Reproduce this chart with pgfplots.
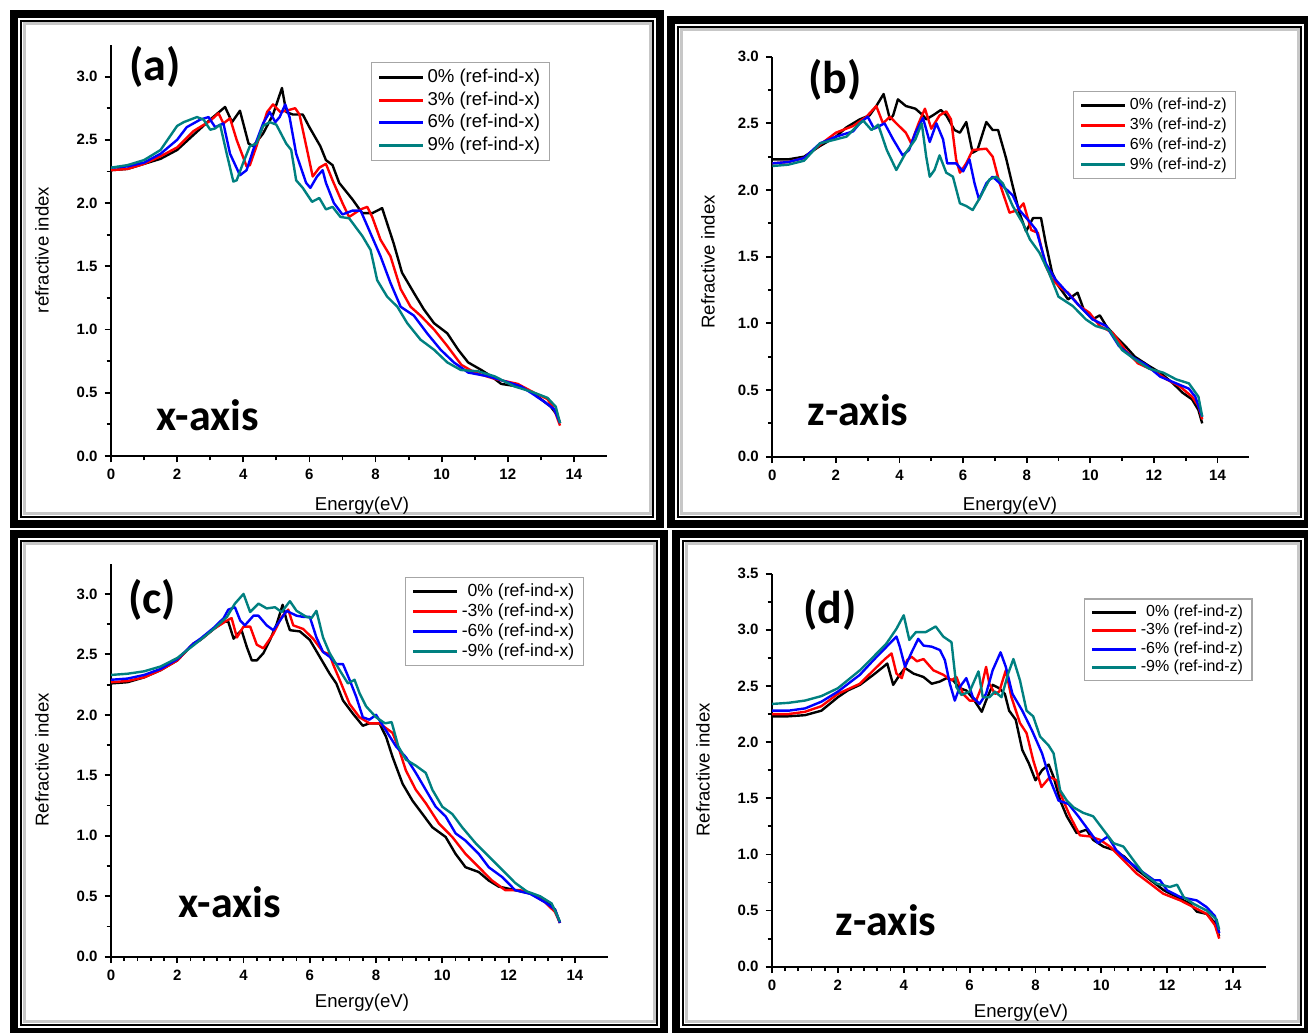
\documentclass[border=0pt]{standalone}
\usepackage{pgfplots}
\pgfplotsset{compat=1.18}
\usepackage{fontspec}
\setmainfont{Liberation Sans}
\newfontfamily\calibri{Carlito}
\definecolor{tealc}{RGB}{0,128,128}
\definecolor{redc}{RGB}{255,0,0}
\definecolor{bluec}{RGB}{0,0,255}
\pgfplotsset{
  panel/.style={
    scale only axis, anchor=south west,
    xmin=0, xmax=15, ymin=0,
    axis x line*=bottom, axis y line*=left,
    x axis line style={-}, y axis line style={-},
    axis line style={line width=1pt},
    tick align=outside,
    xtick={0,2,...,14},
    major tick length=3.2pt, minor tick length=2.2pt,
    every tick/.style={black, line width=0.9pt},
    tick label style={font=\bfseries\fontsize{7.5}{8}\selectfont},
    /pgf/number format/assume math mode=true,
    yticklabel style={/pgf/number format/.cd, fixed, fixed zerofill, precision=1},
    xticklabel style={/pgf/number format/.cd, fixed, precision=0},
    legend cell align=left,
    legend style={draw=gray!70, line width=0.6pt, anchor=north west},
    legend image code/.code={\draw[#1,line width=1.5pt] (0pt,0pt) -- (22pt,0pt);},
    every axis plot/.append style={line width=1.2pt, line join=round, no marks},
  }
}
\begin{document}
\begin{tikzpicture}
\begin{scope}[x=0.5pt,y=0.5pt]
\useasboundingbox (0,0) rectangle (1308,1033);
\newcommand\frm[4]{%
  \draw[line width=4pt] (#1+4,1033-#2-4) rectangle (#3-4,1033-#4+4);
  \draw[line width=0.75pt] (#1+11,1033-#2-11) rectangle (#3-11,1033-#4+11);
  \draw[line width=1.5pt, black!22] (#1+14,1033-#2-14) rectangle (#3-14,1033-#4+14);
}
\frm{10}{10}{664}{528}
\frm{667}{16}{1312}{528}
\frm{10}{530}{668}{1036}
\frm{672}{530}{1312}{1036}
\end{scope}

% ---------------- (a)
\begin{axis}[panel, at={(55.5pt,288.5pt)}, width=248pt, height=205.5pt,
  ymax=3.25, ytick={0,0.5,...,3.0}, minor x tick num=1, minor y tick num=1,
  legend style={at={(0.524,0.959)}, font=\fontsize{9.3}{10}\selectfont,
    nodes={inner ysep=1.5pt, inner xsep=1.5pt}}]
\addplot[black] coordinates {(0,2.26)(0.5,2.27)(1,2.31)(1.5,2.35)(2,2.42)(2.5,2.54)(3,2.66)(3.45,2.76)(3.66,2.64)(3.9,2.73)(4.16,2.47)(4.3,2.45)(4.6,2.55)(4.9,2.70)(5.17,2.91)(5.3,2.72)(5.5,2.70)(5.8,2.70)(6.0,2.60)(6.33,2.45)(6.5,2.34)(6.7,2.30)(6.9,2.16)(7.3,2.03)(7.6,1.92)(7.9,1.92)(8.2,1.96)(8.35,1.84)(8.55,1.68)(8.8,1.45)(9.16,1.29)(9.46,1.16)(9.77,1.05)(10.17,0.97)(10.5,0.84)(10.8,0.74)(11.2,0.68)(11.5,0.63)(11.8,0.57)(12.3,0.55)(12.7,0.51)(13.0,0.45)(13.3,0.39)(13.5,0.32)(13.58,0.26)};
\addlegendentry{0\% (ref-ind-x)}
\addplot[redc] coordinates {(0,2.26)(0.5,2.27)(1,2.31)(1.5,2.37)(2,2.44)(2.5,2.57)(3,2.65)(3.25,2.71)(3.4,2.63)(3.6,2.67)(3.8,2.50)(4.1,2.29)(4.2,2.30)(4.4,2.45)(4.72,2.72)(4.9,2.78)(5.12,2.72)(5.3,2.73)(5.57,2.75)(5.7,2.70)(5.93,2.42)(6.1,2.21)(6.3,2.28)(6.5,2.31)(6.7,2.18)(7.0,2.0)(7.2,1.89)(7.55,1.95)(7.75,1.97)(7.9,1.89)(8.15,1.71)(8.45,1.58)(8.76,1.32)(9.06,1.18)(9.36,1.11)(9.77,1.0)(10.17,0.87)(10.6,0.72)(11.0,0.66)(11.6,0.61)(12.3,0.57)(12.8,0.50)(13.2,0.45)(13.4,0.37)(13.58,0.24)};
\addlegendentry{3\% (ref-ind-x)}
\addplot[bluec] coordinates {(0,2.28)(0.5,2.29)(1,2.32)(1.5,2.39)(2,2.50)(2.29,2.60)(2.7,2.66)(2.95,2.68)(3.15,2.60)(3.4,2.63)(3.6,2.39)(3.9,2.22)(4.1,2.26)(4.3,2.42)(4.6,2.63)(4.8,2.72)(4.97,2.64)(5.1,2.68)(5.27,2.78)(5.4,2.68)(5.6,2.39)(5.9,2.16)(6.03,2.12)(6.23,2.21)(6.4,2.26)(6.5,2.16)(6.74,2.0)(7.0,1.91)(7.3,1.94)(7.55,1.94)(7.75,1.82)(8.15,1.58)(8.45,1.37)(8.76,1.18)(9.16,1.11)(9.56,0.97)(9.97,0.84)(10.37,0.74)(10.8,0.66)(11.4,0.63)(11.8,0.60)(12.4,0.55)(12.7,0.50)(13.1,0.43)(13.4,0.37)(13.58,0.26)};
\addlegendentry{6\% (ref-ind-x)}
\addplot[tealc] coordinates {(0,2.28)(0.5,2.30)(1,2.34)(1.5,2.42)(2,2.61)(2.2,2.64)(2.6,2.68)(2.8,2.66)(3.0,2.58)(3.15,2.59)(3.3,2.62)(3.5,2.39)(3.7,2.17)(3.8,2.18)(4.0,2.32)(4.2,2.45)(4.4,2.47)(4.6,2.61)(4.8,2.64)(5.0,2.62)(5.3,2.47)(5.45,2.42)(5.6,2.18)(5.8,2.12)(6.08,2.01)(6.3,2.04)(6.5,1.95)(6.7,1.97)(6.94,1.89)(7.2,1.88)(7.6,1.74)(7.85,1.63)(8.05,1.39)(8.35,1.26)(8.66,1.18)(8.96,1.05)(9.36,0.92)(9.77,0.84)(10.17,0.74)(10.58,0.68)(11.1,0.67)(11.6,0.63)(12.2,0.55)(12.7,0.51)(13.2,0.46)(13.45,0.39)(13.58,0.26)};
\addlegendentry{9\% (ref-ind-x)}
\end{axis}

% ---------------- (b)
\begin{axis}[panel, at={(386.15pt,288.15pt)}, width=238.5pt, height=200pt,
  ymax=3.0, ytick={0,0.5,...,3.0}, minor x tick num=1, minor y tick num=1,
  legend style={at={(0.631,0.914)}, font=\fontsize{8}{9}\selectfont,
    nodes={inner ysep=1.3pt, inner xsep=1.5pt}}]
\addplot[black] coordinates {(0,2.23)(0.5,2.23)(1,2.25)(1.5,2.33)(2,2.40)(2.33,2.47)(2.75,2.53)(3.06,2.56)(3.27,2.63)(3.5,2.72)(3.7,2.53)(3.8,2.56)(3.95,2.68)(4.2,2.63)(4.5,2.61)(4.74,2.56)(4.84,2.53)(5.05,2.56)(5.3,2.60)(5.47,2.56)(5.73,2.45)(5.9,2.43)(6.1,2.51)(6.3,2.28)(6.45,2.30)(6.73,2.51)(6.93,2.45)(7.1,2.45)(7.35,2.24)(7.56,2.03)(7.77,1.83)(7.98,1.69)(8.2,1.79)(8.45,1.79)(8.6,1.60)(8.8,1.38)(9.0,1.28)(9.3,1.18)(9.6,1.23)(9.8,1.10)(10.07,1.03)(10.3,1.06)(10.5,0.98)(10.8,0.90)(11.1,0.83)(11.4,0.75)(11.85,0.68)(12.2,0.63)(12.6,0.55)(12.9,0.48)(13.2,0.43)(13.4,0.35)(13.52,0.25)};
\addlegendentry{0\% (ref-ind-z)}
\addplot[redc] coordinates {(0,2.20)(0.5,2.21)(1,2.24)(1.5,2.34)(2,2.43)(2.54,2.48)(2.96,2.55)(3.27,2.63)(3.48,2.50)(3.7,2.55)(3.9,2.50)(4.2,2.43)(4.37,2.35)(4.6,2.50)(4.8,2.61)(5.0,2.46)(5.26,2.56)(5.47,2.59)(5.62,2.53)(5.78,2.23)(5.9,2.13)(6.1,2.20)(6.3,2.30)(6.73,2.31)(6.93,2.25)(7.15,2.05)(7.46,1.83)(7.72,1.85)(7.9,1.90)(8.14,1.70)(8.35,1.68)(8.6,1.43)(8.8,1.33)(9.1,1.26)(9.3,1.23)(9.66,1.13)(9.97,1.08)(10.3,0.98)(10.7,0.93)(11.1,0.80)(11.5,0.70)(11.96,0.65)(12.4,0.58)(12.8,0.53)(13.2,0.45)(13.4,0.38)(13.52,0.28)};
\addlegendentry{3\% (ref-ind-z)}
\addplot[bluec] coordinates {(0,2.20)(0.5,2.21)(1,2.24)(1.5,2.35)(2,2.40)(2.54,2.44)(2.75,2.50)(3.0,2.55)(3.2,2.46)(3.53,2.50)(3.8,2.38)(4.1,2.26)(4.3,2.30)(4.5,2.43)(4.74,2.54)(4.95,2.36)(5.16,2.50)(5.37,2.38)(5.5,2.20)(5.78,2.20)(6.0,2.14)(6.2,2.23)(6.36,2.05)(6.5,1.93)(6.73,2.05)(6.93,2.10)(7.25,2.03)(7.56,1.96)(7.77,1.85)(8.1,1.76)(8.3,1.70)(8.6,1.45)(8.9,1.33)(9.2,1.25)(9.66,1.13)(10.07,1.03)(10.5,0.98)(10.9,0.83)(11.3,0.75)(11.75,0.69)(12.2,0.60)(12.7,0.55)(13.1,0.51)(13.3,0.45)(13.52,0.30)};
\addlegendentry{6\% (ref-ind-z)}
\addplot[tealc] coordinates {(0,2.18)(0.5,2.19)(1,2.22)(1.5,2.35)(2,2.38)(2.33,2.40)(2.75,2.50)(2.86,2.52)(3.12,2.45)(3.33,2.49)(3.6,2.30)(3.9,2.15)(4.2,2.28)(4.5,2.38)(4.7,2.50)(4.84,2.25)(4.95,2.10)(5.1,2.15)(5.26,2.26)(5.47,2.13)(5.68,2.10)(5.9,1.90)(6.1,1.88)(6.3,1.85)(6.5,1.93)(6.83,2.08)(7.04,2.10)(7.25,2.05)(7.56,1.88)(7.88,1.75)(8.1,1.63)(8.4,1.53)(8.7,1.38)(9.0,1.20)(9.45,1.13)(9.86,1.03)(10.17,0.98)(10.6,0.95)(11.0,0.80)(11.4,0.73)(11.85,0.66)(12.3,0.63)(12.7,0.58)(13.1,0.55)(13.4,0.45)(13.52,0.30)};
\addlegendentry{9\% (ref-ind-z)}
\end{axis}

% ---------------- (c)
\begin{axis}[panel, at={(55.5pt,38.15pt)}, width=248.5pt, height=196.5pt,
  ymax=3.25, ytick={0,0.5,...,3.0}, minor x tick num=4, minor y tick num=1,
  legend style={at={(0.592,0.967)}, font=\fontsize{8.8}{9.5}\selectfont,
    nodes={inner ysep=1.1pt, inner xsep=1.5pt}}]
\addplot[black] coordinates {(0,2.26)(0.5,2.27)(1,2.31)(1.5,2.37)(2,2.45)(2.49,2.59)(2.7,2.62)(3.1,2.71)(3.4,2.77)(3.54,2.77)(3.7,2.63)(3.8,2.66)(3.94,2.70)(4.1,2.56)(4.25,2.45)(4.4,2.45)(4.6,2.51)(4.8,2.62)(5.0,2.75)(5.18,2.91)(5.3,2.78)(5.4,2.70)(5.7,2.69)(6.0,2.62)(6.3,2.48)(6.6,2.34)(6.8,2.26)(7.0,2.12)(7.3,2.01)(7.6,1.91)(7.8,1.93)(8.1,1.93)(8.3,1.82)(8.5,1.65)(8.8,1.43)(9.1,1.29)(9.4,1.18)(9.7,1.07)(10.1,0.99)(10.4,0.85)(10.7,0.74)(11.1,0.70)(11.4,0.63)(11.7,0.58)(12.2,0.55)(12.7,0.52)(13.1,0.47)(13.4,0.39)(13.55,0.28)};
\addlegendentry{\phantom{-}0\% (ref-ind-x)}
\addplot[redc] coordinates {(0,2.27)(0.5,2.28)(1,2.31)(1.5,2.37)(2,2.45)(2.49,2.59)(2.7,2.62)(3.1,2.71)(3.5,2.78)(3.64,2.80)(3.8,2.64)(4.0,2.73)(4.2,2.73)(4.4,2.58)(4.6,2.55)(4.9,2.67)(5.15,2.81)(5.35,2.87)(5.5,2.74)(5.8,2.71)(6.1,2.63)(6.4,2.52)(6.6,2.50)(6.7,2.42)(6.9,2.29)(7.2,2.09)(7.5,1.98)(7.8,1.93)(8.1,1.93)(8.5,1.85)(8.7,1.71)(8.9,1.54)(9.2,1.38)(9.5,1.27)(9.9,1.10)(10.3,0.99)(10.7,0.85)(11.1,0.74)(11.5,0.63)(11.9,0.55)(12.35,0.55)(12.7,0.52)(13.1,0.45)(13.4,0.37)(13.55,0.28)};
\addlegendentry{-3\% (ref-ind-x)}
\addplot[bluec] coordinates {(0,2.29)(0.5,2.30)(1,2.33)(1.5,2.38)(2,2.46)(2.49,2.59)(2.7,2.63)(3.1,2.72)(3.4,2.80)(3.54,2.87)(3.74,2.89)(3.9,2.78)(4.04,2.74)(4.3,2.82)(4.45,2.82)(4.7,2.74)(4.9,2.70)(5.1,2.78)(5.3,2.86)(5.6,2.82)(5.8,2.81)(6.0,2.81)(6.2,2.64)(6.4,2.52)(6.6,2.48)(6.8,2.42)(7.0,2.42)(7.2,2.29)(7.4,2.15)(7.6,1.98)(7.8,1.96)(8.0,2.00)(8.3,1.87)(8.6,1.74)(8.9,1.65)(9.2,1.52)(9.5,1.38)(9.8,1.24)(10.1,1.16)(10.4,1.02)(10.7,0.96)(11.1,0.85)(11.4,0.74)(11.8,0.66)(12.2,0.55)(12.65,0.52)(13.1,0.45)(13.4,0.39)(13.55,0.28)};
\addlegendentry{-6\% (ref-ind-x)}
\addplot[tealc] coordinates {(0,2.33)(0.5,2.34)(1,2.36)(1.5,2.40)(2,2.47)(2.7,2.62)(3.1,2.71)(3.5,2.81)(3.74,2.92)(4.0,3.00)(4.2,2.85)(4.45,2.92)(4.7,2.88)(4.95,2.89)(5.15,2.85)(5.4,2.94)(5.6,2.86)(5.9,2.81)(6.05,2.80)(6.2,2.86)(6.4,2.64)(6.6,2.51)(6.9,2.37)(7.15,2.26)(7.35,2.29)(7.5,2.18)(7.7,2.07)(8.0,1.98)(8.27,1.93)(8.47,1.94)(8.67,1.74)(8.9,1.63)(9.2,1.58)(9.5,1.52)(9.7,1.38)(10.0,1.24)(10.3,1.18)(10.6,1.07)(11.0,0.94)(11.4,0.83)(11.8,0.72)(12.2,0.61)(12.55,0.54)(12.95,0.50)(13.3,0.44)(13.55,0.29)};
\addlegendentry{-9\% (ref-ind-x)}
\end{axis}

% ---------------- (d)
\begin{axis}[panel, at={(386pt,33.15pt)}, width=247pt, height=196.5pt,
  ymax=3.5, ytick={0,0.5,...,3.5}, minor x tick num=4, minor y tick num=1,
  legend style={at={(0.632,0.937)}, font=\fontsize{8}{9}\selectfont,
    nodes={inner ysep=0.95pt, inner xsep=1.5pt}}]
\addplot[black] coordinates {(0,2.23)(0.5,2.23)(1,2.24)(1.5,2.28)(2,2.40)(2.3,2.46)(2.67,2.51)(3.08,2.60)(3.38,2.67)(3.5,2.70)(3.68,2.51)(3.88,2.60)(4.04,2.66)(4.3,2.61)(4.6,2.58)(4.85,2.52)(5.1,2.54)(5.3,2.57)(5.5,2.55)(5.7,2.48)(5.9,2.46)(6.1,2.39)(6.37,2.27)(6.5,2.37)(6.7,2.51)(6.9,2.48)(7.07,2.43)(7.2,2.28)(7.4,2.20)(7.6,1.93)(7.8,1.81)(8.0,1.66)(8.2,1.75)(8.4,1.80)(8.55,1.69)(8.75,1.48)(8.95,1.34)(9.25,1.19)(9.55,1.22)(9.75,1.13)(10.06,1.07)(10.37,1.04)(10.7,0.98)(11.1,0.86)(11.5,0.77)(11.9,0.68)(12.3,0.62)(12.7,0.56)(12.9,0.49)(13.2,0.47)(13.45,0.39)(13.58,0.27)};
\addlegendentry{\phantom{-}0\% (ref-ind-z)}
\addplot[redc] coordinates {(0,2.25)(0.5,2.25)(1,2.27)(1.5,2.32)(2,2.43)(2.67,2.52)(3.08,2.64)(3.43,2.74)(3.63,2.79)(3.78,2.61)(3.94,2.57)(4.1,2.73)(4.24,2.76)(4.4,2.72)(4.6,2.74)(4.9,2.64)(5.2,2.60)(5.45,2.55)(5.6,2.58)(5.8,2.43)(6.0,2.37)(6.2,2.37)(6.36,2.49)(6.5,2.67)(6.6,2.52)(6.77,2.43)(6.9,2.45)(7.1,2.64)(7.27,2.40)(7.53,2.17)(7.73,2.08)(7.93,1.84)(8.18,1.60)(8.44,1.69)(8.64,1.66)(8.8,1.51)(9.05,1.34)(9.35,1.17)(9.66,1.16)(9.96,1.13)(10.26,1.07)(10.67,0.95)(11.07,0.83)(11.48,0.74)(11.88,0.65)(12.4,0.59)(12.8,0.53)(13.2,0.47)(13.45,0.37)(13.58,0.25)};
\addlegendentry{-3\% (ref-ind-z)}
\addplot[bluec] coordinates {(0,2.28)(0.5,2.28)(1,2.30)(1.5,2.36)(2,2.45)(2.67,2.60)(3.08,2.73)(3.48,2.85)(3.78,2.94)(3.88,2.85)(4.04,2.67)(4.24,2.80)(4.44,2.92)(4.6,2.86)(4.85,2.85)(5.1,2.82)(5.25,2.73)(5.4,2.52)(5.55,2.37)(5.7,2.49)(5.9,2.57)(6.1,2.40)(6.3,2.34)(6.5,2.43)(6.7,2.64)(6.94,2.80)(7.1,2.67)(7.3,2.43)(7.6,2.28)(7.9,2.10)(8.2,1.90)(8.45,1.66)(8.7,1.48)(9.0,1.45)(9.3,1.34)(9.6,1.22)(9.9,1.10)(10.2,1.16)(10.45,1.04)(10.77,0.95)(11.17,0.86)(11.6,0.77)(11.78,0.77)(12.0,0.68)(12.4,0.62)(12.9,0.59)(13.2,0.53)(13.45,0.45)(13.58,0.30)};
\addlegendentry{-6\% (ref-ind-z)}
\addplot[tealc] coordinates {(0,2.34)(0.5,2.35)(1,2.37)(1.5,2.41)(2,2.48)(2.67,2.64)(3.08,2.76)(3.48,2.88)(3.78,3.01)(4.0,3.13)(4.17,2.91)(4.37,2.98)(4.67,2.98)(4.97,3.03)(5.2,2.94)(5.45,2.89)(5.6,2.49)(5.75,2.42)(6.0,2.45)(6.27,2.63)(6.4,2.40)(6.6,2.40)(6.77,2.45)(6.97,2.40)(7.17,2.61)(7.33,2.74)(7.53,2.55)(7.73,2.28)(7.93,2.23)(8.14,2.05)(8.4,1.97)(8.55,1.90)(8.75,1.57)(8.95,1.48)(9.15,1.42)(9.45,1.37)(9.75,1.34)(10.06,1.22)(10.37,1.10)(10.67,1.07)(10.97,0.95)(11.28,0.83)(11.68,0.74)(12.08,0.71)(12.3,0.73)(12.5,0.62)(12.8,0.56)(13.2,0.50)(13.5,0.42)(13.58,0.33)};
\addlegendentry{-9\% (ref-ind-z)}
\end{axis}

% ---------------- annotations
\begin{scope}[x=0.5pt,y=0.5pt]
\node[font=\calibri\bfseries\fontsize{23}{26}\selectfont] at (155,1033-67) {(a)};
\node[font=\calibri\bfseries\fontsize{22}{26}\selectfont] at (208,1033-415) {x-axis};
\node[font=\calibri\bfseries\fontsize{23}{26}\selectfont] at (835,1033-80) {(b)};
\node[font=\calibri\bfseries\fontsize{22}{26}\selectfont] at (858,1033-410) {z-axis};
\node[font=\calibri\bfseries\fontsize{23}{26}\selectfont] at (152,1033-600) {(c)};
\node[font=\calibri\bfseries\fontsize{22}{26}\selectfont] at (230,1033-902) {x-axis};
\node[font=\calibri\bfseries\fontsize{23}{26}\selectfont] at (830,1033-610) {(d)};
\node[font=\calibri\bfseries\fontsize{22}{26}\selectfont] at (886,1033-920) {z-axis};
\node[rotate=90, font=\fontsize{9.3}{10}\selectfont] at (42,1033-250) {refractive index};
\node[rotate=90, font=\fontsize{9.3}{10}\selectfont] at (708,1033-262) {Refractive index};
\node[rotate=90, font=\fontsize{9.3}{10}\selectfont] at (42,1033-760) {Refractive index};
\node[rotate=90, font=\fontsize{9.3}{10}\selectfont] at (703,1033-770) {Refractive index};
\node[font=\fontsize{9.3}{10}\selectfont] at (362,1033-506) {Energy(eV)};
\node[font=\fontsize{9.3}{10}\selectfont] at (1010,1033-506) {Energy(eV)};
\node[font=\fontsize{9.3}{10}\selectfont] at (362,1033-1003) {Energy(eV)};
\node[font=\fontsize{9.3}{10}\selectfont] at (1021,1033-1013) {Energy(eV)};
\end{scope}
\end{tikzpicture}
\end{document}
